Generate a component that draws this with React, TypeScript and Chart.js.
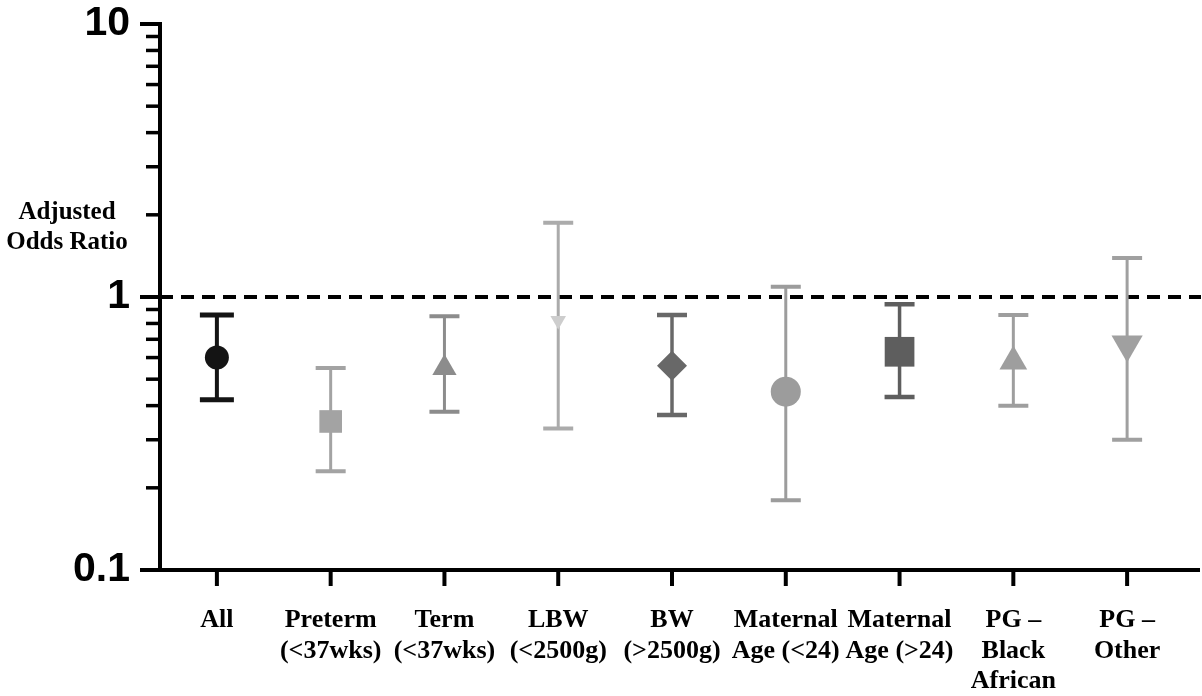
import React, { useEffect, useRef } from "react";
import { Chart, registerables } from "chart.js";

Chart.register(...registerables);

// ---------- data ----------
const categories: string[][] = [
  ["All"],
  ["Preterm", "(<37wks)"],
  ["Term", "(<37wks)"],
  ["LBW", "(<2500g)"],
  ["BW", "(>2500g)"],
  ["Maternal", "Age (<24)"],
  ["Maternal", "Age (>24)"],
  ["PG –", "Black", "African"],
  ["PG –", "Other"],
];
const oddsRatio = [0.6, 0.35, 0.55, 0.82, 0.56, 0.45, 0.63, 0.58, 0.67];
const lowerCI = [0.42, 0.23, 0.38, 0.33, 0.37, 0.18, 0.43, 0.4, 0.3];
const upperCI = [0.86, 0.55, 0.85, 1.87, 0.86, 1.09, 0.94, 0.86, 1.39];
const referenceValue = 1;
const yTickValues = [
  0.1, 0.2, 0.3, 0.4, 0.5, 0.6, 0.7, 0.8, 0.9,
  1, 2, 3, 4, 5, 6, 7, 8, 9, 10,
];
const yMajorValues = [0.1, 1, 10];
const yMajorLabels = ["0.1", "1", "10"];
const yTitleLines = ["Adjusted", "Odds Ratio"];

// ---------- styles ----------
const markerColors = [
  "#141414", "#a3a3a3", "#8c8c8c", "#cdcdcd", "#686868",
  "#9c9c9c", "#5e5e5e", "#9e9e9e", "#a0a0a0",
];
const barColors = [
  "#141414", "#a3a3a3", "#8c8c8c", "#ababab", "#686868",
  "#9c9c9c", "#5e5e5e", "#9e9e9e", "#a0a0a0",
];
const markerStyles = [
  "circle", "rect", "triangle", "triangle", "rectRot",
  "circle", "rect", "triangle", "triangle",
];
const markerRotation = [0, 0, 0, 180, 0, 0, 0, 0, 180];
const markerRadius = [12, 16, 14, 9, 15, 15, 21, 16, 18];
const barWidths = [4, 3, 3, 3, 3.5, 3, 3.5, 3, 3];

const overlayPlugin = {
  id: "overlay",
  beforeDatasetsDraw(chart: any) {
    const { ctx, chartArea } = chart;
    const x = chart.scales.x;
    const y = chart.scales.y;
    ctx.save();
    // reference line
    const ry = y.getPixelForValue(referenceValue);
    ctx.setLineDash([13, 8]);
    ctx.lineWidth = 4;
    ctx.strokeStyle = "#000";
    ctx.beginPath();
    ctx.moveTo(chartArea.left, ry);
    ctx.lineTo(chart.width - 1, ry);
    ctx.stroke();
    ctx.setLineDash([]);
    // error bars
    categories.forEach((_, i) => {
      const px = x.getPixelForValue(i);
      const yl = y.getPixelForValue(lowerCI[i]);
      const yu = y.getPixelForValue(upperCI[i]);
      const cap = i === 0 ? 17 : 15;
      ctx.strokeStyle = barColors[i];
      ctx.lineWidth = barWidths[i];
      ctx.beginPath();
      ctx.moveTo(px, yu);
      ctx.lineTo(px, yl);
      ctx.stroke();
      ctx.lineWidth = barWidths[i] + 1;
      ctx.beginPath();
      ctx.moveTo(px - cap, yu);
      ctx.lineTo(px + cap, yu);
      ctx.moveTo(px - cap, yl);
      ctx.lineTo(px + cap, yl);
      ctx.stroke();
    });
    ctx.restore();
  },
  afterDraw(chart: any) {
    const { ctx, chartArea } = chart;
    const x = chart.scales.x;
    const y = chart.scales.y;
    ctx.save();
    ctx.strokeStyle = "#000";
    // y axis ticks
    yTickValues.forEach((v) => {
      const py = y.getPixelForValue(v);
      const major = yMajorValues.includes(v);
      ctx.lineWidth = major ? 4 : 3.5;
      ctx.beginPath();
      ctx.moveTo(chartArea.left - (major ? 20 : 14), py);
      ctx.lineTo(chartArea.left, py);
      ctx.stroke();
    });
    // x axis ticks
    ctx.lineWidth = 4;
    categories.forEach((_, i) => {
      const px = x.getPixelForValue(i);
      ctx.beginPath();
      ctx.moveTo(px, chartArea.bottom);
      ctx.lineTo(px, chartArea.bottom + 16);
      ctx.stroke();
    });
    // x axis line extension to the right edge
    ctx.lineWidth = 4;
    ctx.beginPath();
    ctx.moveTo(chartArea.right - 2, chartArea.bottom);
    ctx.lineTo(chart.width - 2, chartArea.bottom);
    ctx.stroke();
    // y title
    ctx.fillStyle = "#000";
    ctx.font = "bold 25px 'Liberation Serif', 'Times New Roman', serif";
    ctx.textAlign = "center";
    ctx.textBaseline = "middle";
    yTitleLines.forEach((t, k) => {
      ctx.fillText(t, 67, 213 + k * 30);
    });
    ctx.restore();
  },
};

export default function App() {
  const ref = useRef<HTMLCanvasElement | null>(null);
  useEffect(() => {
    if (!ref.current) return;
    const chart = new Chart(ref.current, {
      type: "line",
      data: {
        labels: categories,
        datasets: [
          {
            data: oddsRatio,
            showLine: false,
            pointStyle: markerStyles as any,
            pointRadius: markerRadius,
            pointHoverRadius: markerRadius,
            pointRotation: markerRotation,
            pointBackgroundColor: markerColors,
            pointBorderColor: markerColors,
            pointBorderWidth: 0,
          },
        ],
      },
      options: {
        animation: false,
        responsive: false,
        events: [],
        layout: { padding: { top: 24, right: 7, left: 0, bottom: 0 } },
        plugins: {
          legend: { display: false },
          tooltip: { enabled: false },
          title: { display: false },
        },
        scales: {
          x: {
            type: "category",
            offset: true,
            grid: { display: false, drawTicks: true, tickLength: 35 },
            border: { display: true, color: "#000", width: 4 },
            ticks: {
              autoSkip: false,
              maxRotation: 0,
              minRotation: 0,
              padding: 0,
              color: "#000",
              font: {
                family: "'Liberation Serif', 'Times New Roman', serif",
                size: 26,
                weight: "bold",
                lineHeight: 1.18,
              },
            },
            afterFit: (s: any) => {
              s.height = 126;
              s.paddingLeft = 0;
              s.paddingRight = 0;
            },
          },
          y: {
            type: "logarithmic",
            min: 0.1,
            max: 10,
            grid: { display: false, drawTicks: false },
            border: { display: true, color: "#000", width: 4 },
            afterBuildTicks: (s: any) => {
              s.ticks = yTickValues.map((v) => ({ value: v }));
            },
            ticks: {
              autoSkip: false,
              padding: 30,
              color: "#000",
              font: {
                family: "'Liberation Sans', Arial, sans-serif",
                size: 41,
                weight: "bold",
                lineHeight: 1.2,
              },
              callback: (v: any) => {
                const idx = yMajorValues.findIndex((m) => Math.abs(m - Number(v)) < 1e-9);
                return idx >= 0 ? yMajorLabels[idx] : "";
              },
            },
            afterFit: (s: any) => {
              s.width = 160;
              s.paddingTop = 0;
              s.paddingBottom = 0;
            },
          },
        },
      },
      plugins: [overlayPlugin],
    });
    return () => chart.destroy();
  }, []);
  return (
    <div
      style={{
        position: "fixed",
        left: 0,
        top: 0,
        width: 1202,
        height: 696,
        background: "#fff",
      }}
    >
      <canvas ref={ref} width={1202} height={696} style={{ display: "block" }} />
    </div>
  );
}
